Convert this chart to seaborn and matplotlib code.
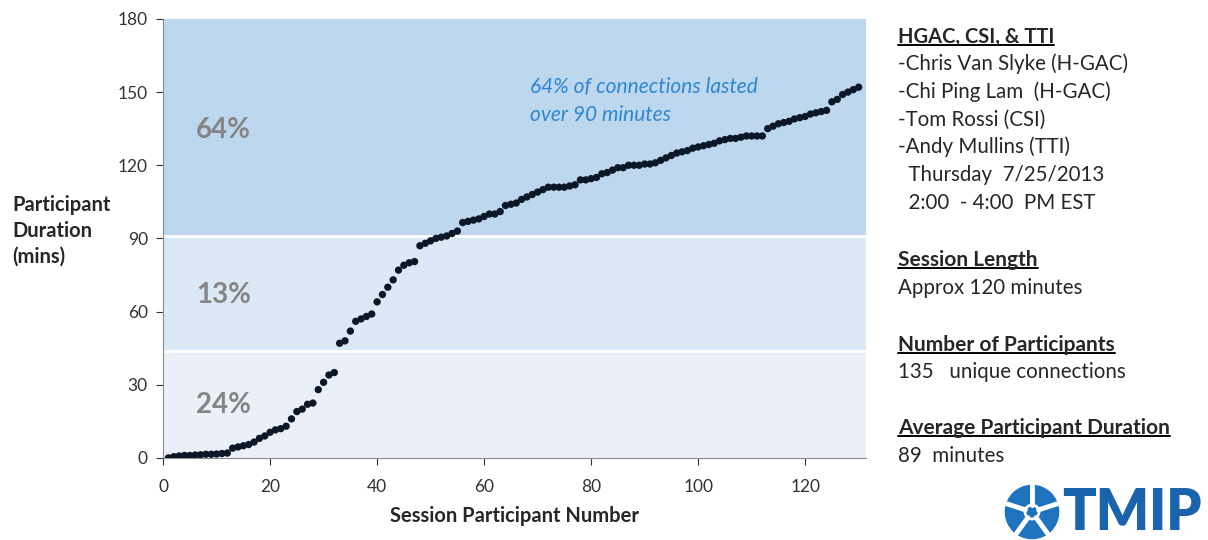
import matplotlib
matplotlib.use("Agg")
import matplotlib.pyplot as plt
import seaborn as sns
import pandas as pd
import numpy as np
from matplotlib.lines import Line2D
from matplotlib.patches import Circle

participant = list(range(1, 131))
duration = [
    0, 0.5, 0.8, 1, 1, 1.2, 1.3, 1.5, 1.5, 1.6,
    1.8, 2, 4, 4.5, 5, 5.5, 6.5, 8, 9, 10.5,
    11.5, 12, 13, 16, 19, 20, 22, 22.5, 28, 31,
    34, 35, 47, 48, 52, 56, 57, 58, 59, 64,
    67, 70, 73, 77, 79, 80, 80.5, 87, 88, 89,
    90, 90.5, 91, 92, 93, 96.5, 97, 97.5, 98, 99,
    100, 100, 101, 103.5, 104, 104.5, 106, 107, 108, 109,
    110, 111, 111, 111, 111, 111.5, 112, 114, 114, 114.5,
    115, 116.5, 117, 118, 119, 119, 120, 120, 120, 120.5,
    120.5, 121, 122, 123, 124, 125, 125.5, 126, 127, 127.5,
    128, 128.5, 129, 130, 130.5, 131, 131, 131.5, 132, 132,
    132, 132, 135, 136, 137, 137.5, 138, 139, 139.5, 140,
    141, 141.5, 142, 142.5, 146, 147, 149, 150, 151, 152,
]
band_edges = [0, 44, 91, 180]
band_labels = ["24%", "13%", "64%"]
band_colors = ["#EBF0F8", "#DBE8F5", "#BDD7EE"]
x_ticks = [0, 20, 40, 60, 80, 100, 120]
y_ticks = [0, 30, 60, 90, 120, 150, 180]

info_lines = [
    ("HGAC, CSI, & TTI", True),
    ("-Chris Van Slyke (H-GAC)", False),
    ("-Chi Ping Lam  (H-GAC)", False),
    ("-Tom Rossi (CSI)", False),
    ("-Andy Mullins (TTI)", False),
    ("  Thursday  7/25/2013", False),
    ("  2:00  - 4:00  PM EST", False),
]
stats_blocks = [
    ("Session Length", "Approx 120 minutes"),
    ("Number of Participants", "135   unique connections"),
    ("Average Participant Duration", "89  minutes"),
]

sns.set_style("white")
plt.rcParams["font.family"] = ["Lato", "DejaVu Sans"]

df = pd.DataFrame({"participant": participant, "duration": duration})

fig = plt.figure(figsize=(12.08, 5.4), dpi=100)
ax = fig.add_axes([0.135, 0.152, 0.582, 0.813])

for lo, hi, c in zip(band_edges[:-1], band_edges[1:], band_colors):
    ax.axhspan(lo, hi, color=c, zorder=0, lw=0)
for e in band_edges[1:-1]:
    ax.axhline(e, color="white", lw=2, zorder=1)

sns.scatterplot(data=df, x="participant", y="duration", ax=ax,
                color="#0B1726", s=28, edgecolor="none", zorder=3, legend=False)

label_y = [21.5, 67, 134.5]
for lab, yy in zip(band_labels, label_y):
    ax.text(11.3, yy, lab, fontsize=20, fontweight="bold", color="#858585",
            ha="center", va="center")

ax.text(68.6, 152, "64% of connections lasted", fontsize=15, style="italic",
        color="#2E86D1", ha="left", va="center")
ax.text(68.6, 140.5, "over 90 minutes", fontsize=15, style="italic",
        color="#2E86D1", ha="left", va="center")

ax.set_xlim(0, 131.4)
ax.set_ylim(0, 180)
ax.set_xticks(x_ticks)
ax.set_yticks(y_ticks)
ax.tick_params(axis="both", labelsize=12.5, length=5, direction="out",
               colors="#333333", bottom=True, left=True)
ax.tick_params(axis="x", pad=10)
ax.tick_params(axis="y", pad=6)
for s in ["top", "right"]:
    ax.spines[s].set_visible(False)
for s in ["left", "bottom"]:
    ax.spines[s].set_color("#8C8C8C")
ax.set_xlabel("Session Participant Number", fontsize=14.5, fontweight="bold", labelpad=8)
ax.set_ylabel("")
fig.text(0.01, 0.573, "Participant\nDuration\n(mins)", fontsize=14.5,
         fontweight="bold", ha="left", va="center", linespacing=1.35)

# right info panel
x0 = 898 / 1208
texts_to_underline = []
ys = [37, 64, 92, 120, 147, 175, 203]
for (t, bold), yp in zip(info_lines, ys):
    tx = fig.text(x0, 1 - yp / 540, t, fontsize=14.5 if bold else 14.8,
                  fontweight="bold" if bold else "normal", ha="left", va="center")
    if bold:
        texts_to_underline.append(tx)
block_y = [(260, 288), (345, 372), (428, 456)]
for (h, v), (yh, yv) in zip(stats_blocks, block_y):
    th = fig.text(x0, 1 - yh / 540, h, fontsize=15, fontweight="bold",
                  ha="left", va="center")
    texts_to_underline.append(th)
    fig.text(x0, 1 - yv / 540, v, fontsize=14.8, ha="left", va="center")

fig.canvas.draw()
r = fig.canvas.get_renderer()
for tx in texts_to_underline:
    bb = tx.get_window_extent(renderer=r).transformed(fig.transFigure.inverted())
    yline = bb.y0 + 0.004
    fig.add_artist(Line2D([bb.x0, bb.x1], [yline, yline], color="black",
                          lw=1.4, transform=fig.transFigure))

# logo
lax = fig.add_axes([1004 / 1208, 0.0, 56 / 1208, 56 / 540])
lax.set_xlim(-1, 1); lax.set_ylim(-1, 1); lax.set_aspect("equal"); lax.axis("off")
lax.add_patch(Circle((0, 0), 0.95, color="#1E73BE"))
for ang in [90, 162, 234, 306, 18]:
    a = np.deg2rad(ang)
    lax.plot([0.25 * np.cos(a), 0.95 * np.cos(a)], [0.25 * np.sin(a), 0.95 * np.sin(a)],
             color="white", lw=3.5)
lax.add_patch(Circle((0, 0), 0.25, color="#1E73BE", ec="white", lw=2))
fig.text(1062 / 1208, 0.05, "TMIP", fontsize=40, fontweight="heavy",
         color="#1A64AD", ha="left", va="center")

fig.savefig("out.png", dpi=100)
